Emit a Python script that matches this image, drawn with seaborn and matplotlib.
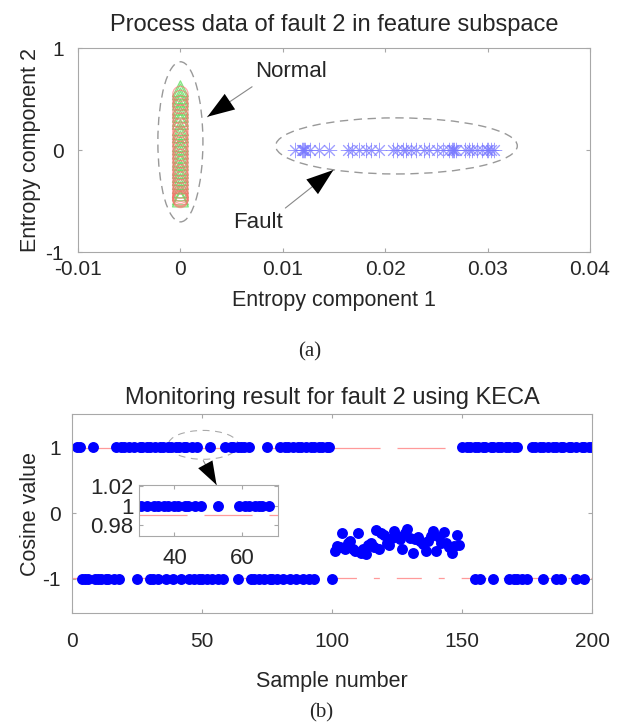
import numpy as np
import pandas as pd
import seaborn as sns
import matplotlib
matplotlib.use("Agg")
import matplotlib.pyplot as plt
from matplotlib.patches import Ellipse

# ---- data: (a) feature subspace ----
normal_train_y = [0.60, 0.57, 0.53, 0.50, 0.47, 0.42, 0.39, 0.35, 0.31, 0.28, 0.22, 0.18,
                  0.15, 0.11, 0.06, 0.03, -0.01, -0.05, -0.09, -0.12, -0.17, -0.20, -0.24,
                  -0.27, -0.31, -0.35, -0.39, -0.42, -0.46, -0.48]
normal_test_y = [0.55, 0.51, 0.46, 0.43, 0.37, 0.33, 0.29, 0.24, 0.20, 0.16, 0.13, 0.08,
                 0.05, 0.01, -0.03, -0.07, -0.10, -0.14, -0.18, -0.22, -0.25, -0.29, -0.33,
                 -0.36, -0.40, -0.43, -0.45, -0.47, -0.48, -0.49]
fault_x = [0.0112, 0.0119, 0.0120, 0.0121, 0.0122, 0.0127, 0.0135, 0.0145,
           0.0164, 0.0168, 0.0174, 0.0181, 0.0186, 0.0194,
           0.0208, 0.0212, 0.0217, 0.0220, 0.0225, 0.0230, 0.0238, 0.0243,
           0.0251, 0.0256, 0.0262, 0.0265, 0.0266, 0.0267, 0.0269,
           0.0278, 0.0282, 0.0285, 0.0290, 0.0295, 0.0299, 0.0300, 0.0303, 0.0306]
a_xticks = [-0.01, 0, 0.01, 0.02, 0.03, 0.04]
a_yticks = [-1, 0, 1]

# ---- data: (b) monitoring result ----
pos_samples = [2, 3, 8, 17, 19, 20, 22, 24, 26, 27, 29, 30, 32, 34, 35, 37, 38, 40, 41, 43,
               44, 46, 48, 53, 59, 61, 62, 64, 65, 66, 68, 75, 80, 82, 83, 85, 87, 88, 90,
               92, 93, 95, 96, 98, 99, 150, 152, 153, 155, 156, 158, 159, 161, 162, 164,
               165, 167, 168, 170, 171, 177, 178, 180, 181, 183, 185, 186, 188, 189, 191,
               192, 194, 196, 197, 199, 200]
neg_samples = [4, 5, 6, 9, 10, 11, 13, 14, 16, 18, 25, 30, 31, 33, 36, 39, 42, 45, 47, 49,
               50, 52, 54, 56, 58, 64, 69, 70, 72, 74, 76, 77, 79, 81, 84, 86, 89, 91, 93,
               100, 155, 157, 162, 168, 170, 171, 173, 175, 181, 186, 188, 194, 197]
fault_samples = list(range(101, 150))
fault_cosine = [-0.58, -0.50, -0.52, -0.30, -0.55, -0.45, -0.42, -0.55, -0.57, -0.30,
                -0.60, -0.55, -0.62, -0.48, -0.45, -0.52, -0.25, -0.55, -0.30, -0.33,
                -0.45, -0.48, -0.38, -0.27, -0.35, -0.40, -0.55, -0.30, -0.24, -0.38,
                -0.60, -0.40, -0.37, -0.42, -0.47, -0.58, -0.43, -0.35, -0.27, -0.58,
                -0.37, -0.45, -0.28, -0.45, -0.52, -0.60, -0.50, -0.33, -0.48]
threshold_hi = 0.99
threshold_lo = -0.99
b_xticks = [0, 50, 100, 150, 200]
b_yticks = [-1, 0, 1]
inset_xticks = [40, 60]
inset_yticks = [0.98, 1, 1.02]

sns.set_style("white")
plt.rcParams["font.family"] = ["Liberation Sans", "DejaVu Sans"]
plt.rcParams["lines.scale_dashes"] = False
plt.rcParams["axes.unicode_minus"] = False
FS = 15
TFS = 17
SPINE = "#a8a8a8"

fig = plt.figure(figsize=(6.17, 7.27), dpi=100)
W, H = 617, 727


def px_axes(l, t, r, b):
    return fig.add_axes([l / W, 1 - b / H, (r - l) / W, (b - t) / H])


def style_axes(ax, pad_x, pad_y, size=FS):
    for s in ax.spines.values():
        s.set_color(SPINE)
        s.set_linewidth(0.8)
    ax.tick_params(direction="in", length=3, color=SPINE, labelsize=size,
                   top=True, right=True, bottom=True, left=True)
    ax.tick_params(axis="x", pad=pad_x)
    ax.tick_params(axis="y", pad=pad_y)


def arrow(ax, start, tip, scale=15):
    ax.annotate("", xy=tip, xytext=start,
                arrowprops=dict(arrowstyle="-", color="#888888", lw=0.8,
                                shrinkA=0, shrinkB=0))
    ax.annotate("", xy=tip, xytext=start,
                arrowprops=dict(arrowstyle="-|>,head_length=1.3,head_width=0.45",
                                color="black", lw=0, mutation_scale=scale,
                                shrinkA=0, shrinkB=0))


# ---------------- (a) ----------------
ax1 = px_axes(78, 48, 590, 252)
df_train = pd.DataFrame({"x": [0.0] * len(normal_train_y), "y": normal_train_y})
df_test = pd.DataFrame({"x": [0.0] * len(normal_test_y), "y": normal_test_y})
df_fault = pd.DataFrame({"x": fault_x, "y": [0.0] * len(fault_x)})

sns.scatterplot(data=df_train, x="x", y="y", ax=ax1, marker="^", s=130,
                facecolor="none", edgecolor="#55dd55", color="#55dd55",
                linewidth=0.9, alpha=0.75)
sns.scatterplot(data=df_test, x="x", y="y", ax=ax1, marker="o", s=120,
                facecolor="none", edgecolor="#ff6f6f", color="#ff6f6f",
                linewidth=0.9, alpha=0.6)
sns.scatterplot(data=df_fault, x="x", y="y", ax=ax1, marker=(8, 2, 0), s=110,
                color="#7878ff", linewidth=0.7, alpha=0.7)

ax1.add_patch(Ellipse((0.0, 0.08), 0.0044, 1.57, fill=False, ec="#999999",
                      lw=1, ls=(0, (6, 4))))
ax1.add_patch(Ellipse((0.0211, 0.04), 0.0236, 0.55, fill=False, ec="#999999",
                      lw=1, ls=(0, (6, 4))))
ax1.text(0.0108, 0.765, "Normal", fontsize=FS + 1, ha="center", va="center")
ax1.text(0.0076, -0.71, "Fault", fontsize=FS + 1, ha="center", va="center")
arrow(ax1, (0.0070, 0.62), (0.00264, 0.326))
arrow(ax1, (0.01025, -0.569), (0.01494, -0.196))

ax1.set_xlim(-0.01, 0.04)
ax1.set_ylim(-1, 1)
ax1.set_xticks(a_xticks)
ax1.set_xticklabels(["-0.01", "0", "0.01", "0.02", "0.03", "0.04"])
ax1.set_yticks(a_yticks)
style_axes(ax1, 6, 10)
ax1.set_title("Process data of fault 2 in feature subspace", fontsize=TFS, pad=12)
ax1.set_xlabel("Entropy component 1", fontsize=FS + 0.5, labelpad=8)
ax1.set_ylabel("Entropy component 2", fontsize=FS + 0.5, labelpad=3)
fig.text(310 / W, 1 - 352 / H, "(a)", fontsize=FS, ha="center", va="center",
         family="Liberation Serif")

# ---------------- (b) ----------------
ax2 = px_axes(72, 414, 592, 613)
df_pos = pd.DataFrame({"sample": pos_samples, "cos": [1.0] * len(pos_samples)})
df_neg = pd.DataFrame({"sample": neg_samples, "cos": [-1.0] * len(neg_samples)})
df_fc = pd.DataFrame({"sample": fault_samples, "cos": fault_cosine})
df_all = pd.concat([df_pos, df_neg, df_fc], ignore_index=True)

hi_dash = (0, (34.6, 12.2))
lo_dash = (0, (18, 12.2, 4.3, 12.2))


def draw_monitor(ax, s):
    ax.axhline(threshold_hi, color="#ff9a9a", lw=0.9, ls=hi_dash, zorder=1)
    ax.axhline(threshold_lo, color="#ff9a9a", lw=0.9, ls=lo_dash, zorder=1)
    sns.scatterplot(data=df_all, x="sample", y="cos", ax=ax, s=s, color="#0000ff",
                    edgecolor="#0000ff", linewidth=0, zorder=2)


draw_monitor(ax2, 62)
ax2.add_patch(Ellipse((50.5, 1.04), 27, 0.44, fill=False, ec="#aaaaaa",
                      lw=0.8, ls=(0, (5, 4))))
arrow(ax2, (50.5, 0.80), (55.6, 0.43), scale=13)
ax2.set_xlim(0, 200)
ax2.set_ylim(-1.52, 1.51)
ax2.set_xticks(b_xticks)
ax2.set_yticks(b_yticks)
style_axes(ax2, 14, 8)
ax2.set_title("Monitoring result for fault 2 using KECA", fontsize=TFS, pad=7)
ax2.set_xlabel("Sample number", fontsize=FS + 0.5, labelpad=14)
ax2.set_ylabel("Cosine value", fontsize=FS + 0.5, labelpad=1)
fig.text(321 / W, 1 - 713 / H, "(b)", fontsize=FS, ha="center", va="center",
         family="Liberation Serif")

# inset zoom
ax3 = px_axes(139, 485, 278, 536)
draw_monitor(ax3, 62)
ax3.set_xlim(29.5, 70.7)
ax3.set_ylim(0.969, 1.021)
ax3.set_xticks(inset_xticks)
ax3.set_yticks(inset_yticks)
ax3.set_yticklabels(["0.98", "1", "1.02"])
style_axes(ax3, 9, 4, size=16)
ax3.set_xlabel("")
ax3.set_ylabel("")

fig.savefig("out.png", dpi=100)
